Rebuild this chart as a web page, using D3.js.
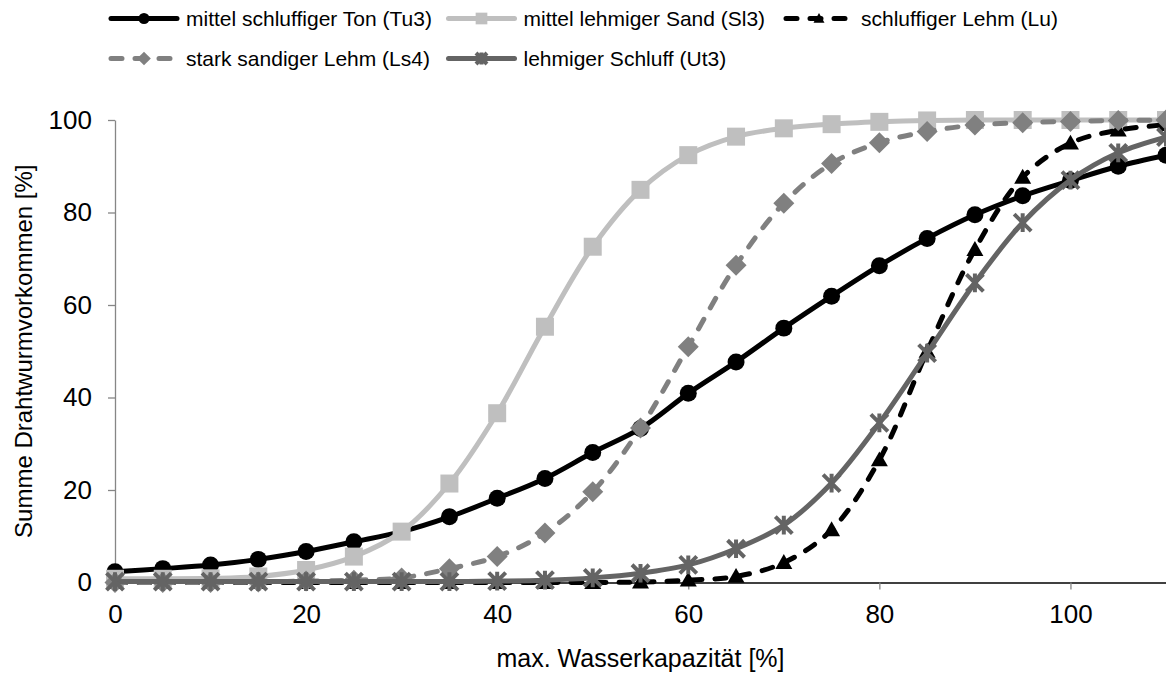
<!DOCTYPE html>
<html>
<head>
<meta charset="utf-8">
<script src="https://cdn.jsdelivr.net/npm/d3@7/dist/d3.min.js"></script>
<style>
  body { margin: 0; background: #fff; }
  text { font-family: "Liberation Sans", Arial, sans-serif; }
</style>
</head>
<body>
<svg id="chart" width="1166" height="675"></svg>
<script>
// max. Wasserkapazitaet [%] (x values, every 5 %)
const xValues = [0, 5, 10, 15, 20, 25, 30, 35, 40, 45, 50, 55, 60, 65, 70, 75, 80, 85, 90, 95, 100, 105, 110]

// Summe Drahtwurmvorkommen [%] per soil type
const tu3 = [2.3, 3.0, 3.8, 5.0, 6.7, 8.8, 11.0, 14.2, 18.2, 22.5, 28.1, 33.3, 40.9, 47.7, 55.0, 61.9, 68.5, 74.4, 79.5, 83.6, 86.9, 90.0, 92.4]
const sl3 = [0.8, 0.8, 0.9, 1.3, 2.7, 5.6, 11.0, 21.4, 36.6, 55.3, 72.6, 84.9, 92.4, 96.4, 98.2, 99.1, 99.6, 99.9, 100, 100, 100, 100, 100]
const lu = [0, 0, 0, 0, 0, 0, 0, 0, 0, 0, 0, 0.1, 0.5, 1.3, 4.3, 11.4, 26.5, 50.0, 72.0, 87.6, 95.0, 97.8, 99.0]
const ls4 = [0, 0, 0, 0.1, 0.3, 0.5, 1.0, 3.0, 5.6, 10.7, 19.6, 33.4, 51.0, 68.6, 82.0, 90.6, 95.1, 97.5, 98.9, 99.4, 99.7, 99.9, 100]
const ut3 = [0.2, 0.2, 0.2, 0.2, 0.2, 0.2, 0.2, 0.2, 0.3, 0.5, 1.0, 2.0, 3.8, 7.3, 12.4, 21.5, 34.5, 49.6, 64.8, 77.8, 87.0, 92.9, 96.3]

const seriesNames = ['mittel schluffiger Ton (Tu3)', 'mittel lehmiger Sand (Sl3)', 'schluffiger Lehm (Lu)',
  'stark sandiger Lehm (Ls4)', 'lehmiger Schluff (Ut3)']
const xTicks = [0, 20, 40, 60, 80, 100]
const yTicks = [0, 20, 40, 60, 80, 100]

const xTitle = 'max. Wasserkapazität [%]'
const yTitle = 'Summe Drahtwurmvorkommen [%]'

// styles per series, same order as names
const styles = [
  {color: '#000000', dash: null, marker: 'circle'},
  {color: '#bfbfbf', dash: null, marker: 'square'},
  {color: '#000000', dash: '11,13', marker: 'triangle'},
  {color: '#808080', dash: '11,13', marker: 'diamond'},
  {color: '#646464', dash: null, marker: 'star'}
]
const values = [tu3, sl3, lu, ls4, ut3]

const margin = {top: 120, right: 0, bottom: 92.5, left: 115}
const fullWidth = 1166
const fullHeight = 675
const width = fullWidth - margin.left - margin.right
const height = fullHeight - margin.top - margin.bottom

const svg = d3.select('#chart')
const g = svg.append('g')
  .attr('transform', 'translate(' + margin.left + ',' + margin.top + ')')

const x = d3.scaleLinear().domain([0, 110]).range([0, width])
const y = d3.scaleLinear().domain([0, 100]).range([height, 0])

// axes
const yAxis = g.append('g')
  .call(d3.axisLeft(y).tickValues(yTicks).tickSize(7).tickPadding(16).tickSizeOuter(0))
yAxis.select('.domain').attr('stroke', '#868686').attr('stroke-width', 1.3)
yAxis.selectAll('.tick line').attr('stroke', '#868686').attr('stroke-width', 1.3)
yAxis.selectAll('text').style('font-size', '26px').attr('fill', '#000')

const xAxis = g.append('g')
  .attr('transform', 'translate(0,' + height + ')')
  .call(d3.axisBottom(x).tickValues(xTicks).tickSize(7).tickPadding(15).tickSizeOuter(0))
xAxis.select('.domain').attr('stroke', '#000').attr('stroke-width', 1.3)
xAxis.selectAll('.tick line').attr('stroke', '#868686').attr('stroke-width', 1.3)
xAxis.selectAll('text').style('font-size', '26px').attr('fill', '#000')

// axis titles
svg.append('text')
  .attr('x', margin.left + x(55))
  .attr('y', 667)
  .attr('text-anchor', 'middle')
  .style('font-size', '25px')
  .text(xTitle)

svg.append('text')
  .attr('transform', 'translate(32,' + (margin.top + height / 2) + ') rotate(-90)')
  .attr('text-anchor', 'middle')
  .style('font-size', '24px')
  .text(yTitle)

// marker shapes
function markerPath(type, s) {
  if (type === 'circle') return d3.symbol(d3.symbolCircle, s * s * 0.785)()
  if (type === 'square') return d3.symbol(d3.symbolSquare, s * s)()
  if (type === 'diamond') {
    const r = s / 2
    return 'M0,' + (-r) + 'L' + r + ',0L0,' + r + 'L' + (-r) + ',0Z'
  }
  if (type === 'triangle') {
    const r = s / 2
    return 'M0,' + (-r) + 'L' + r + ',' + (r * 0.75) + 'L' + (-r) + ',' + (r * 0.75) + 'Z'
  }
  // star = X plus vertical bar
  const r = s / 2
  return 'M' + (-r) + ',' + (-r) + 'L' + r + ',' + r + 'M' + (-r) + ',' + r + 'L' + r + ',' + (-r) +
    'M0,' + (-r * 1.1) + 'L0,' + (r * 1.1)
}
const markerSize = {circle: 17, square: 18, diamond: 21, triangle: 17, star: 17}

function drawMarker(sel, st, size) {
  const p = sel.append('path').attr('d', markerPath(st.marker, size))
  if (st.marker === 'star') {
    p.attr('fill', 'none').attr('stroke', st.color).attr('stroke-width', 4)
  } else {
    p.attr('fill', st.color)
  }
  return p
}

const line = d3.line()
  .x(function(d) { return x(d[0]) })
  .y(function(d) { return y(d[1]) })
  .curve(d3.curveCatmullRom.alpha(0.5))

values.forEach(function(vals, i) {
  const st = styles[i]
  const pts = xValues.map(function(xv, j) { return [xv, vals[j]] })
  g.append('path')
    .datum(pts)
    .attr('fill', 'none')
    .attr('stroke', st.color)
    .attr('stroke-width', 5)
    .attr('stroke-linecap', 'round')
    .attr('stroke-linejoin', 'round')
    .attr('stroke-dasharray', st.dash)
    .attr('d', line)
  const mg = g.append('g')
  pts.forEach(function(p) {
    const m = mg.append('g').attr('transform', 'translate(' + x(p[0]) + ',' + y(p[1]) + ')')
    drawMarker(m, st, markerSize[st.marker])
  })
})

// legend, three columns in two rows
const legend = svg.append('g')
seriesNames.forEach(function(name, i) {
  const st = styles[i]
  const col = i % 3
  const row = Math.floor(i / 3)
  const lx = 108 + col * 337.5
  const ly = 18.5 + row * 40
  const item = legend.append('g').attr('transform', 'translate(' + lx + ',' + ly + ')')
  item.append('line')
    .attr('x1', 3).attr('x2', 69).attr('y1', 0).attr('y2', 0)
    .attr('stroke', st.color)
    .attr('stroke-width', 5)
    .attr('stroke-linecap', 'round')
    .attr('stroke-dasharray', st.dash)
  const m = item.append('g').attr('transform', 'translate(36,0)')
  drawMarker(m, st, markerSize[st.marker] * 0.65)
  item.append('text')
    .attr('x', 78)
    .attr('y', 7.5)
    .style('font-size', '21px')
    .text(name)
})
</script>
</body>
</html>
